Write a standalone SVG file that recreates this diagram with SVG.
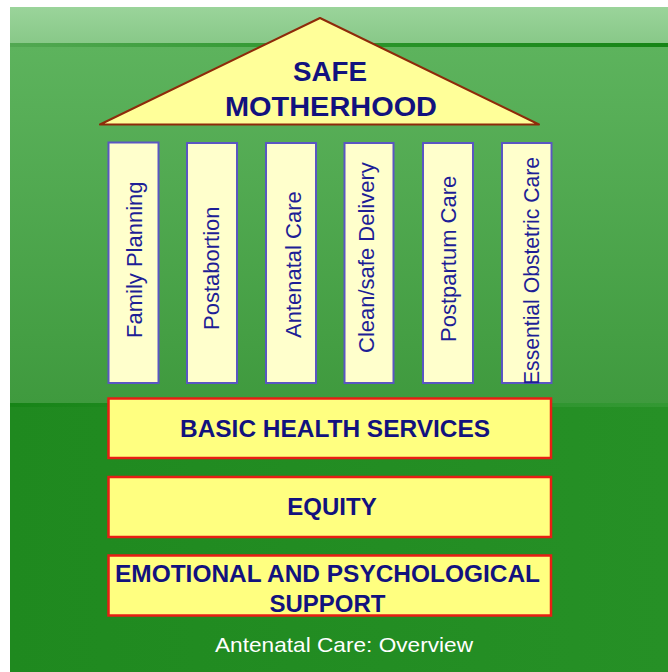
<svg xmlns="http://www.w3.org/2000/svg" width="668" height="672" viewBox="0 0 668 672">
  <style>
    .pillar rect { fill: #ffffcc; stroke: #5a56c2; stroke-width: 2; }
    .pillar text { font-family: "Liberation Sans", Arial, sans-serif; font-size: 22px; fill: #1e1e96; }
    .bar rect { fill: #ffff80; stroke: #e81e14; stroke-width: 2.5; }
    .bar text { font-family: "Liberation Sans", Arial, sans-serif; font-size: 24px; font-weight: bold; fill: #12127e; text-anchor: middle; }
    .roof text { font-family: "Liberation Sans", Arial, sans-serif; font-size: 27px; font-weight: bold; fill: #12127e; text-anchor: middle; }
    .caption { font-family: "Liberation Sans", Arial, sans-serif; font-size: 21px; fill: #ffffff; text-anchor: middle; }
  </style>
  <defs>
    <linearGradient id="topBand" x1="0" y1="0" x2="0" y2="1">
      <stop offset="0" stop-color="#9ad49a"/>
      <stop offset="1" stop-color="#88c888"/>
    </linearGradient>
    <linearGradient id="topRule" x1="0" y1="0" x2="1" y2="0">
      <stop offset="0" stop-color="#52a852"/>
      <stop offset="0.5" stop-color="#2c962c"/>
      <stop offset="1" stop-color="#168516"/>
    </linearGradient>
    <linearGradient id="midBody" x1="0" y1="0" x2="0" y2="1">
      <stop offset="0" stop-color="#5db35d"/>
      <stop offset="1" stop-color="#3f9a3e"/>
    </linearGradient>
    <linearGradient id="lowRule" x1="0" y1="0" x2="1" y2="0">
      <stop offset="0" stop-color="#178417"/>
      <stop offset="0.5" stop-color="#2a912a"/>
      <stop offset="1" stop-color="#339833"/>
    </linearGradient>
    <linearGradient id="lowBody" x1="0" y1="0" x2="1" y2="0">
      <stop offset="0" stop-color="#1f891f"/>
      <stop offset="1" stop-color="#269026"/>
    </linearGradient>
  </defs>

  <!-- page background -->
  <rect x="0" y="0" width="668" height="672" fill="#ffffff"/>
  <rect x="10" y="7" width="658" height="37" fill="url(#topBand)"/>
  <rect x="10" y="43" width="658" height="4" fill="url(#topRule)"/>
  <rect x="10" y="47" width="658" height="356" fill="url(#midBody)"/>
  <rect x="10" y="403" width="658" height="269" fill="url(#lowBody)"/>
  <rect x="10" y="403" width="658" height="4" fill="url(#lowRule)"/>

  <!-- roof -->
  <g id="roof" class="roof">
    <polygon points="320,18 100,124.5 539,124.5" fill="#ffff99" stroke="#8e2a0a" stroke-width="2" stroke-linejoin="round"/>
    <text x="330" y="81" textLength="74" lengthAdjust="spacingAndGlyphs">SAFE</text>
    <text x="331" y="116" textLength="212" lengthAdjust="spacingAndGlyphs">MOTHERHOOD</text>
  </g>

  <!-- pillars -->
  <g id="pillar-family-planning" class="pillar">
    <rect x="108.5" y="142.5" width="50" height="240.5"/>
    <text transform="translate(141.5,338) rotate(-90)">Family Planning</text>
  </g>
  <g id="pillar-postabortion" class="pillar">
    <rect x="187" y="143" width="50" height="240"/>
    <text transform="translate(218.5,330) rotate(-90)">Postabortion</text>
  </g>
  <g id="pillar-antenatal-care" class="pillar">
    <rect x="266" y="143" width="50" height="240"/>
    <text transform="translate(301,338) rotate(-90)">Antenatal Care</text>
  </g>
  <g id="pillar-clean-delivery" class="pillar">
    <rect x="344.5" y="143" width="49" height="240"/>
    <text transform="translate(374,353) rotate(-90)">Clean/safe Delivery</text>
  </g>
  <g id="pillar-postpartum-care" class="pillar">
    <rect x="423" y="143" width="50" height="240"/>
    <text transform="translate(456,342) rotate(-90)">Postpartum Care</text>
  </g>
  <g id="pillar-essential-obstetric-care" class="pillar">
    <rect x="502" y="143" width="49.5" height="240"/>
    <text transform="translate(538.5,385) rotate(-90)" textLength="228" lengthAdjust="spacingAndGlyphs">Essential Obstetric Care</text>
  </g>

  <!-- foundation layers -->
  <g id="basic-health-services" class="bar">
    <rect x="108.5" y="398.5" width="442.5" height="59.5"/>
    <text x="335" y="436.5" textLength="310" lengthAdjust="spacingAndGlyphs">BASIC HEALTH SERVICES</text>
  </g>
  <g id="equity" class="bar">
    <rect x="108.5" y="477" width="442.5" height="60"/>
    <text x="332" y="515">EQUITY</text>
  </g>
  <g id="emotional-psychological-support" class="bar">
    <rect x="108.5" y="555.5" width="442.5" height="60"/>
    <text x="327.5" y="582" textLength="425" lengthAdjust="spacingAndGlyphs">EMOTIONAL AND PSYCHOLOGICAL</text>
    <text x="327.5" y="611.5">SUPPORT</text>
  </g>

  <!-- connectors: none drawn -->
  <g id="connectors"/>

  <text class="caption" x="344" y="651.5" textLength="258" lengthAdjust="spacingAndGlyphs">Antenatal Care: Overview</text>
</svg>
